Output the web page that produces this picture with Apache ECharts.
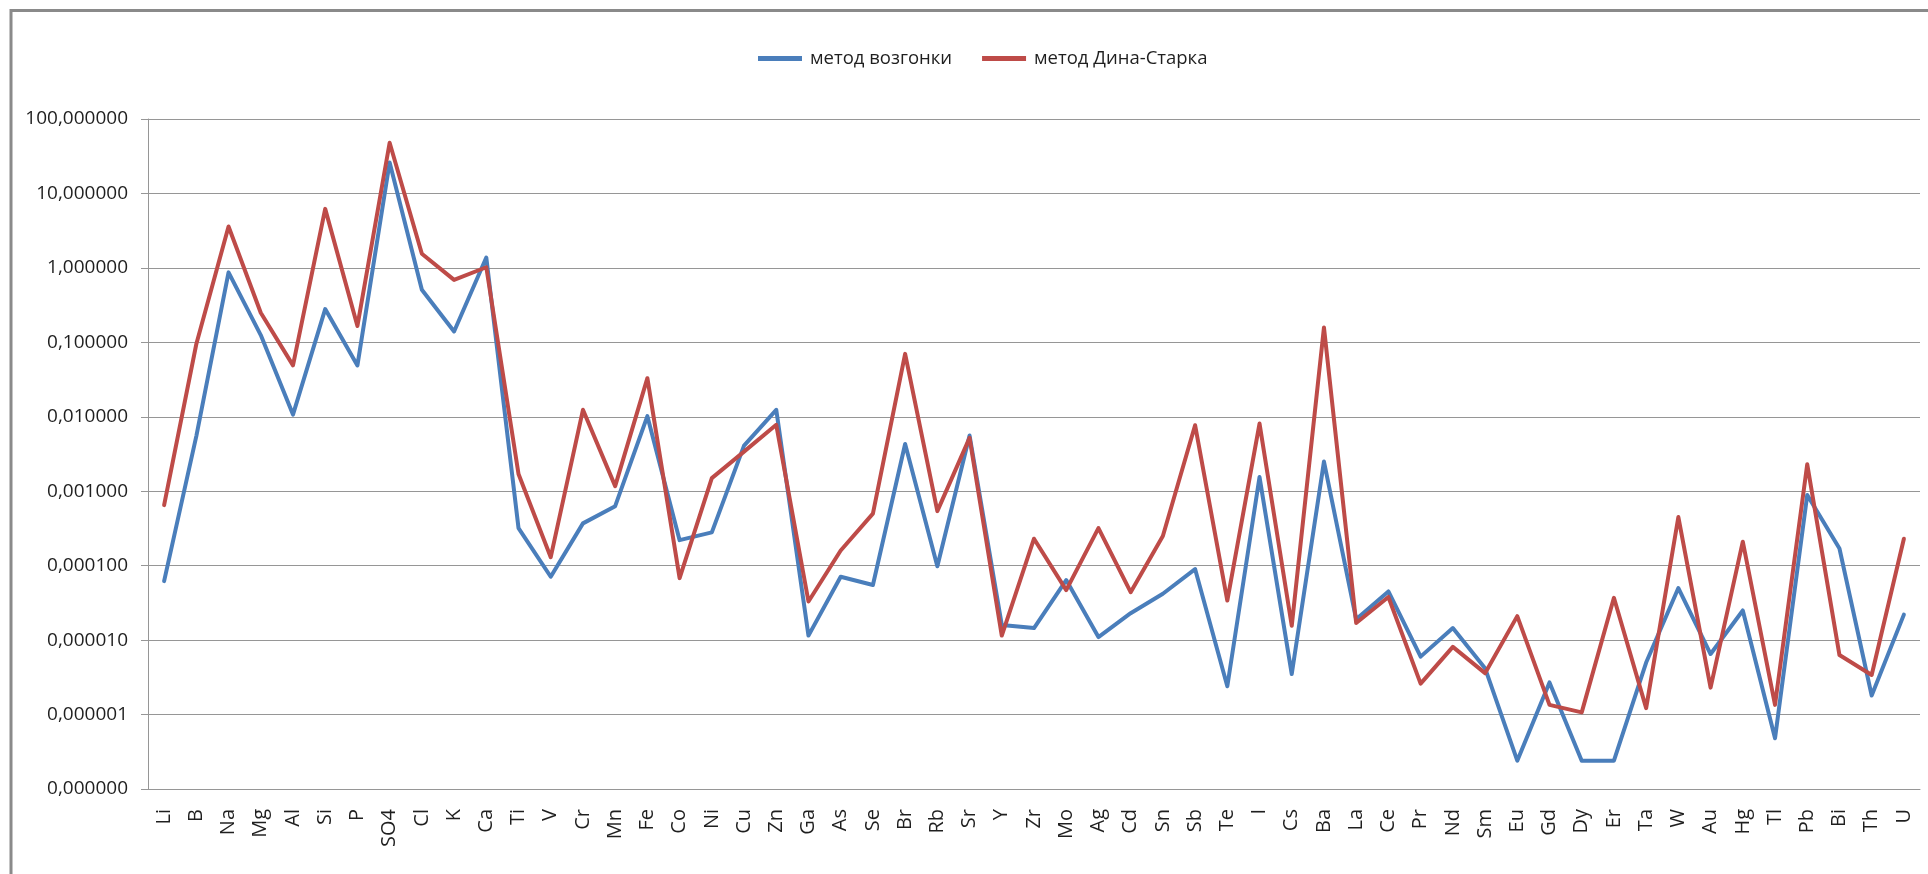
<!DOCTYPE html>
<html>
<head>
<meta charset="utf-8">
<script src="https://cdn.jsdelivr.net/npm/echarts@6/dist/echarts.min.js"></script>
<style>
html,body{margin:0;padding:0;background:#fff;}
#chart{width:1928px;height:874px;}
</style>
</head>
<body>
<div id="chart"></div>
<script>
const categories = ['Li','B','Na','Mg','Al','Si','P','SO4','Cl','K','Ca','Ti','V','Cr','Mn','Fe','Co','Ni','Cu','Zn','Ga','As','Se','Br','Rb','Sr','Y','Zr','Mo','Ag','Cd','Sn','Sb','Te','I','Cs','Ba','La','Ce','Pr','Nd','Sm','Eu','Gd','Dy','Er','Ta','W','Au','Hg','Tl','Pb','Bi','Th','U'];

const seriesNames = ['метод возгонки', 'метод Дина-Старка'];

const sublimation = [6.2e-5, 5.5e-3, 0.87, 0.125, 0.0107, 0.28, 0.049, 26, 0.51, 0.14, 1.38,
  3.2e-4, 7.1e-5, 3.7e-4, 6.3e-4, 0.0102, 2.2e-4, 2.8e-4, 4.1e-3, 0.0124, 1.15e-5,
  7.1e-5, 5.5e-5, 4.3e-3, 9.8e-5, 5.6e-3, 1.6e-5, 1.45e-5, 6.4e-5, 1.1e-5, 2.3e-5,
  4.2e-5, 9.0e-5, 2.4e-6, 1.55e-3, 3.5e-6, 2.5e-3, 1.9e-5, 4.5e-5, 6.0e-6, 1.45e-5,
  4.2e-6, 2.4e-7, 2.7e-6, 2.4e-7, 2.4e-7, 5.0e-6, 5.0e-5, 6.5e-6, 2.5e-5, 4.8e-7,
  8.9e-4, 1.7e-4, 1.8e-6, 2.2e-5];

const deanStark = [6.5e-4, 0.095, 3.6, 0.25, 0.049, 6.2, 0.166, 48, 1.55, 0.69, 1.02,
  1.7e-3, 1.3e-4, 0.0124, 1.17e-3, 0.033, 6.8e-5, 1.5e-3, 3.4e-3, 7.8e-3, 3.3e-5,
  1.6e-4, 5.0e-4, 0.07, 5.4e-4, 5.2e-3, 1.15e-5, 2.3e-4, 4.7e-5, 3.2e-4, 4.4e-5,
  2.5e-4, 7.7e-3, 3.4e-5, 8.1e-3, 1.56e-5, 0.158, 1.7e-5, 3.8e-5, 2.6e-6, 8.1e-6,
  3.6e-6, 2.1e-5, 1.35e-6, 1.07e-6, 3.7e-5, 1.22e-6, 4.5e-4, 2.3e-6, 2.1e-4, 1.35e-6,
  2.3e-3, 6.3e-6, 3.4e-6, 2.3e-4];

const yMin = 1e-7;
const yMax = 100;

const chart = echarts.init(document.getElementById('chart'), null, {renderer: 'canvas'});
const font = 'Open Sans';
const gridColor = '#969696';

chart.setOption({
  animation: false,
  backgroundColor: '#ffffff',
  graphic: [{
    type: 'rect',
    shape: {x: 11, y: 10.5, width: 3000, height: 3000},
    style: {fill: 'none', stroke: '#8a8a8a', lineWidth: 3},
    silent: true
  }],
  legend: {
    data: seriesNames,
    left: 753,
    top: 44,
    icon: 'rect',
    itemWidth: 44,
    itemHeight: 5,
    itemGap: 30,
    textStyle: {fontFamily: font, fontSize: 18.5, color: '#1f1f1f', padding: [0, 0, 0, 3]}
  },
  grid: {left: 148, right: 8, top: 119, bottom: 85},
  xAxis: {
    type: 'category',
    data: categories,
    boundaryGap: true,
    axisLine: {show: true, lineStyle: {color: gridColor, width: 1}},
    axisTick: {show: false},
    axisLabel: {
      interval: 0,
      rotate: 90,
      margin: 20,
      fontFamily: font,
      fontSize: 20,
      color: '#1f1f1f'
    },
    splitLine: {show: false}
  },
  yAxis: {
    type: 'log',
    logBase: 10,
    min: yMin,
    max: yMax,
    splitNumber: 9,
    axisLine: {show: true, lineStyle: {color: gridColor, width: 1}},
    axisTick: {show: true, inside: false, length: 7, lineStyle: {color: gridColor}},
    axisLabel: {
      margin: 20,
      fontFamily: font,
      fontSize: 19,
      color: '#1f1f1f',
      formatter: function (v) { return Number(v).toFixed(6).replace('.', ','); }
    },
    splitLine: {show: true, lineStyle: {color: gridColor, width: 1}}
  },
  series: [
    {
      name: seriesNames[0],
      type: 'line',
      data: sublimation,
      symbol: 'none',
      color: '#4A7EBB',
      lineStyle: {width: 4, color: '#4A7EBB', cap: 'round', join: 'round'}
    },
    {
      name: seriesNames[1],
      type: 'line',
      data: deanStark,
      symbol: 'none',
      color: '#BE4B48',
      lineStyle: {width: 4, color: '#BE4B48', cap: 'round', join: 'round'}
    }
  ]
});
</script>
</body>
</html>
